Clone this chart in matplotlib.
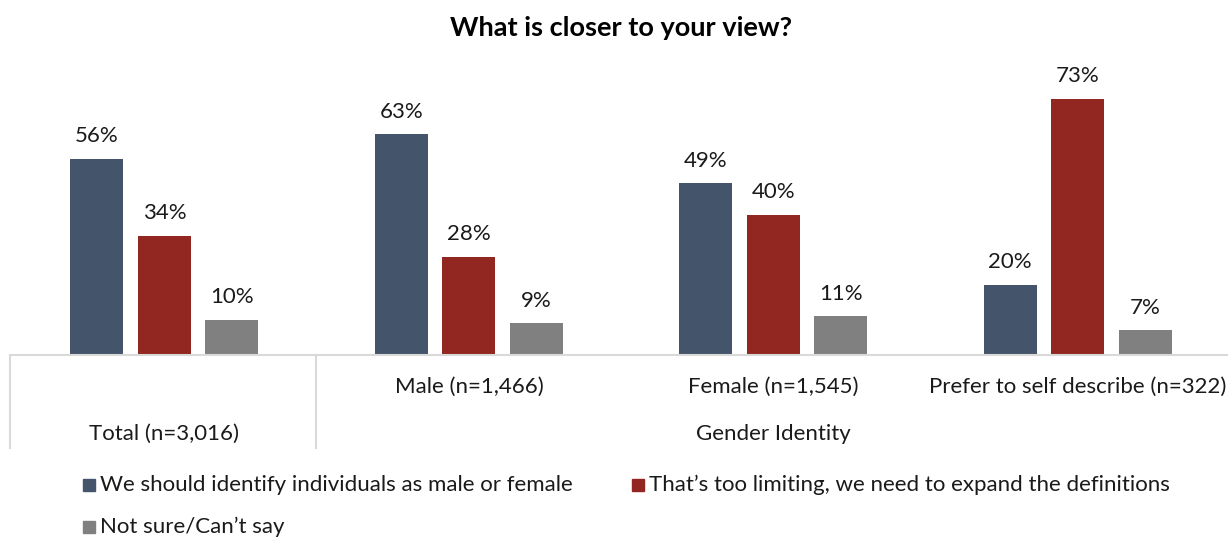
import matplotlib
matplotlib.use("Agg")
import matplotlib.pyplot as plt
from matplotlib.patches import Rectangle
from matplotlib.lines import Line2D
import numpy as np

plt.rcParams["font.family"] = ["Lato", "DejaVu Sans"]

categories = ["Total (n=3,016)", "Male (n=1,466)", "Female (n=1,545)",
              "Prefer to self describe (n=322)"]
series_names = ["We should identify individuals as male or female",
                "That\u2019s too limiting, we need to expand the definitions",
                "Not sure/Can\u2019t say"]
identify_binary = [56, 63, 49, 20]
expand_definitions = [34, 28, 40, 73]
not_sure = [10, 9, 11, 7]
group_label = "Gender Identity"
title = "What is closer to your view?"

colors = ["#44546A", "#922620", "#808080"]
series = [identify_binary, expand_definitions, not_sure]

W, H = 1228, 540
fig = plt.figure(figsize=(W / 100, H / 100), dpi=100)

ax_left, ax_right = 10 / W, 1.0
ax_bottom = 1 - 355 / H
ymax = 80
px_per_unit = 3.505
ax_top = 1 - (355 - ymax * px_per_unit) / H
ax = fig.add_axes([ax_left, ax_bottom, ax_right - ax_left, ax_top - ax_bottom])

text_color = "#1a1a1a"
fs = 16

x = np.arange(len(categories))
bar_w = 0.174
step = 0.222
for i, (vals, col) in enumerate(zip(series, colors)):
    pos = x + (i - 1) * step
    bars = ax.bar(pos, vals, width=bar_w, color=col, zorder=2)
    for b, v in zip(bars, vals):
        ax.annotate(f"{v}%", (b.get_x() + b.get_width() / 2, v),
                    xytext=(0, 12), textcoords="offset points",
                    ha="center", va="baseline", fontsize=fs, color=text_color)

ax.set_xlim(-0.507, len(categories) - 0.507)
ax.set_ylim(0, ymax)
for s in ["top", "right", "left"]:
    ax.spines[s].set_visible(False)
ax.spines["bottom"].set_color("#D9D9D9")
ax.spines["bottom"].set_linewidth(1.5)
ax.set_yticks([])
ax.set_xticks([])

# Two-level category axis
to_fig_y = lambda py: 1 - py / H
axis_px = ymax * px_per_unit
label_kw = dict(fontsize=fs, color=text_color, ha="center", va="center")
trans = ax.get_xaxis_transform()
for xi, cat in zip(x, categories):
    ypix = 434 if xi == 0 else 387
    ax.text(xi, -(ypix - 355) / axis_px, cat, transform=trans, **label_kw)
ax.text(2, -(434 - 355) / axis_px, group_label, transform=trans, **label_kw)

for xpix in (10, 316):
    fig.add_artist(Line2D([xpix / W, xpix / W], [to_fig_y(355), to_fig_y(448)],
                          color="#D9D9D9", lw=1.5))

fig.text(0.5 * (449 + 793) / W, to_fig_y(28), title, ha="center", va="center",
         fontsize=19.5, fontweight="bold", color="#000000")

# Legend
legend_pos = [(83, 485), (632, 485), (83, 527)]
sq = 12
for (lx, ly), name, col in zip(legend_pos, series_names, colors):
    fig.add_artist(Rectangle((lx / W, (H - ly - sq / 2) / H), sq / W, sq / H,
                             transform=fig.transFigure, color=col))
    fig.text((lx + 17) / W, to_fig_y(ly), name, ha="left", va="center",
             fontsize=fs, color=text_color)

fig.savefig("out.png", dpi=100)
